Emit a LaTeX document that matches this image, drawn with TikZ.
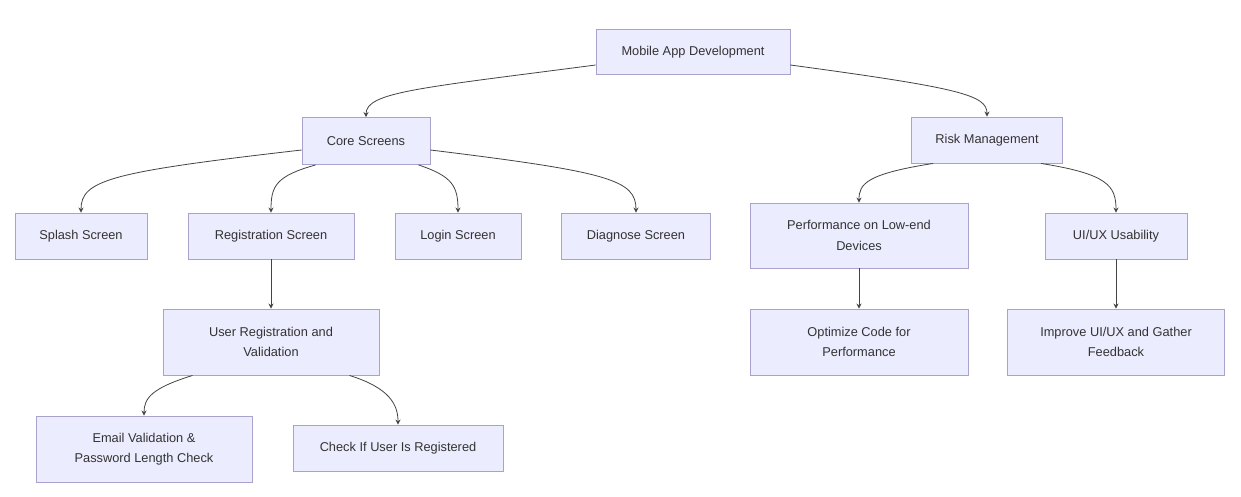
\documentclass[tikz,border=0pt]{standalone}
\usepackage{fontspec}
\setmainfont{Liberation Sans}
\usetikzlibrary{arrows.meta}
\definecolor{boxfill}{HTML}{ECECFF}
\definecolor{boxdraw}{HTML}{A8A2CC}
\definecolor{txt}{HTML}{333333}
\definecolor{edge}{HTML}{444444}
\tikzset{
  box/.style={draw=boxdraw, fill=boxfill, line width=0.9pt, text=txt, align=center,
    font=\fontsize{12.8}{20.5}\selectfont, inner sep=0pt},
  arr/.style={draw=edge, line width=0.8pt, -{Stealth[length=5pt,width=5pt]}}
}
\begin{document}
\begin{tikzpicture}[x=1pt,y=-1pt]
\useasboundingbox[fill=white] (0,0) rectangle (1241,496);
\node[box, minimum width=194pt, minimum height=45pt] (mad) at (693,52) {Mobile App Development};
\node[box, minimum width=128pt, minimum height=47pt] (core) at (366,141) {Core Screens};
\node[box, minimum width=151pt, minimum height=46pt] (risk) at (987,140) {Risk Management};
\node[box, minimum width=132pt, minimum height=46pt] (splash) at (81,236) {Splash Screen};
\node[box, minimum width=166pt, minimum height=46pt] (reg) at (271,236) {Registration Screen};
\node[box, minimum width=126pt, minimum height=46pt] (login) at (458,236) {Login Screen};
\node[box, minimum width=149pt, minimum height=46pt] (diag) at (636,236) {Diagnose Screen};
\node[box, minimum width=218pt, minimum height=65pt] (perf) at (859,235.5) {Performance on Low-end\\Devices};
\node[box, minimum width=142pt, minimum height=46pt] (ui) at (1116,236) {UI/UX Usability};
\node[box, minimum width=216pt, minimum height=66pt] (urv) at (271,342) {User Registration and\\Validation};
\node[box, minimum width=218pt, minimum height=66pt] (opt) at (859,342) {Optimize Code for\\Performance};
\node[box, minimum width=217pt, minimum height=66pt] (imp) at (1116,342) {Improve UI/UX and Gather\\Feedback};
\node[box, minimum width=216pt, minimum height=66pt] (email) at (144,449) {Email Validation \&\\Password Length Check};
\node[box, minimum width=210pt, minimum height=46pt] (check) at (398,448) {Check If User Is Registered};

\draw[arr] ([yshift=-13pt]mad.west) .. controls (420,88) and (366,92) .. (core.north);
\draw[arr] ([yshift=-13pt]mad.east) .. controls (960,88) and (987,95) .. (risk.north);
\draw[arr] ([yshift=-9pt]core.west) .. controls (110,172) and (81,180) .. (splash.north);
\draw[arr] ([xshift=14pt]core.south west) .. controls (276,176) and (271,186) .. (reg.north);
\draw[arr] ([xshift=-12pt]core.south east) .. controls (452,176) and (458,186) .. (login.north);
\draw[arr] ([yshift=-9pt]core.east) .. controls (610,172) and (636,180) .. (diag.north);
\draw[arr] ([xshift=22pt]risk.south west) .. controls (866,174) and (859,184) .. (perf.north);
\draw[arr] ([xshift=-22pt]risk.south east) .. controls (1108,174) and (1116,186) .. (ui.north);
\draw[arr] (reg) -- (urv);
\draw[arr] (perf) -- (opt);
\draw[arr] (ui) -- (imp);
\draw[arr] ([xshift=30pt]urv.south west) .. controls (152,388) and (144,398) .. (email.north);
\draw[arr] ([xshift=-30pt]urv.south east) .. controls (390,388) and (398,405) .. (check.north);
\end{tikzpicture}
\end{document}
